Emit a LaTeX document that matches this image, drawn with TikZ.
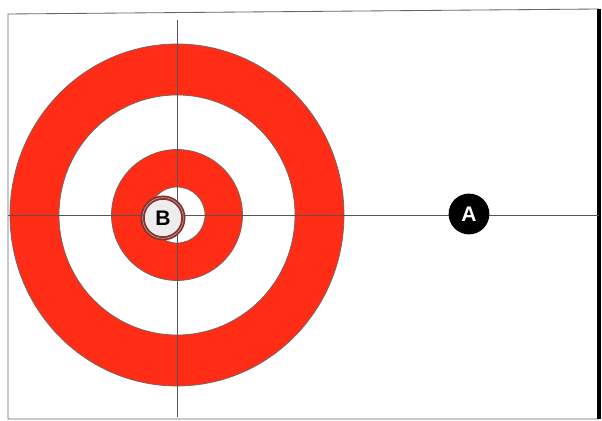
\documentclass[tikz,border=0pt]{standalone}
\usepackage{fontspec}
\setsansfont{Liberation Sans}
\usepackage{tikz}
\usetikzlibrary{positioning}
\definecolor{cRing}{HTML}{FF2D16}
\definecolor{cEdge}{HTML}{6E6666}
\definecolor{cLine}{HTML}{555555}
\definecolor{cStoneB}{HTML}{8A2F2A}
\tikzset{
  ring/.style   ={fill=cRing,draw=cEdge,line width=0.5pt,even odd rule},
  sheetln/.style={draw=cLine,line width=0.5pt},
  stone/.style  ={circle,minimum size=29,inner sep=0pt,
                  font=\sffamily\bfseries\fontsize{15}{15}\selectfont},
  stoneA/.style ={stone,fill=black,text=white},
  stoneB/.style ={stone,fill=black!7,draw=cStoneB,line width=1.3pt,text=black,
                  double=black!30,double distance=0.4pt},
}

\begin{document}
\begin{tikzpicture}[x=0.25mm,y=0.25mm]
\useasboundingbox[fill=white] (0,0) rectangle (602,421);

\coordinate (tee) at (177,206);

% house
\path[ring] (tee) ellipse [x radius=167,y radius=171]
            (tee) ellipse [x radius=118,y radius=120];
\path[ring] (tee) circle [radius=65.5] (tee) circle [radius=28];

% sheet border
\draw[draw=black!60,line width=0.6pt] (599,412) -- (8,407) -- (8,2) -- (599,2);
\draw[line width=2.2pt] (599,412) -- (599,2);

% tee line and centre line
\coordinate (ctop) at (177,401);
\coordinate (cbot) at (177,4);
\coordinate (tlft) at (8,206);
\coordinate (trgt) at (599,206);
\draw[sheetln] (ctop) -- (cbot);
\draw[sheetln] (tlft) -- (trgt);

% stones
\node[stoneA] (stA) at (469,207) {A};
\node[stoneB] (stB) at (163,203) {B};
\end{tikzpicture}
\end{document}
